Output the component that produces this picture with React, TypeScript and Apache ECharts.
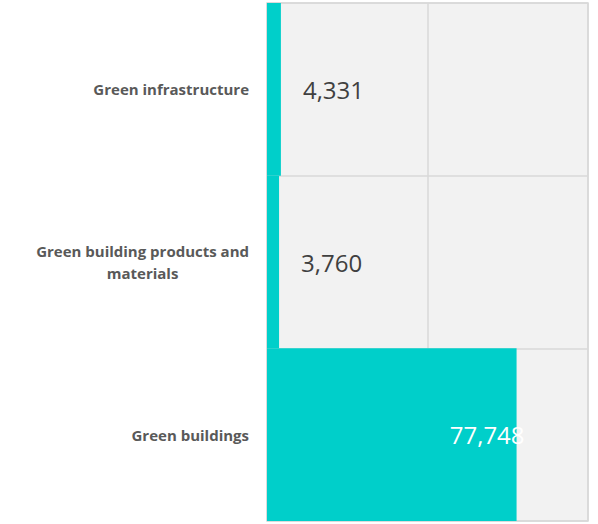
import React, { useEffect, useRef } from "react";
import * as echarts from "echarts";

const categories = [
  "Green infrastructure",
  "Green building products and\nmaterials",
  "Green buildings",
];
const values = [4331, 3760, 77748];
const axisMax = 100000;
const axisInterval = 50000;

export default function App() {
  const ref = useRef<HTMLDivElement>(null);

  useEffect(() => {
    if (!ref.current) return;
    const chart = echarts.init(ref.current, null, { renderer: "svg" });
    const option = {
      animation: false,
      backgroundColor: "#ffffff",
      grid: {
        left: 267,
        right: 10,
        top: 3,
        bottom: 3,
        show: true,
        backgroundColor: "#f2f2f2",
        borderColor: "#d9d9d9",
        borderWidth: 1.5,
      },
      xAxis: {
        type: "value",
        min: 0,
        max: axisMax,
        interval: axisInterval,
        axisLabel: { show: false },
        axisLine: { show: false },
        axisTick: { show: false },
        splitLine: { show: true, lineStyle: { color: "#d9d9d9", width: 1.5 } },
      },
      yAxis: {
        type: "category",
        inverse: true,
        data: categories,
        axisLine: { show: false },
        axisTick: { show: false },
        splitLine: { show: true, lineStyle: { color: "#d9d9d9", width: 1.5 } },
        axisLabel: {
          margin: 18,
          fontFamily: "Open Sans",
          fontWeight: "bold",
          fontSize: 15,
          color: "#595959",
          lineHeight: 22,
          formatter: (v: string) =>
            v
              .split("\n")
              .map((l) => `{c|${l}}`)
              .join("\n"),
          rich: {
            c: {
              align: "center",
              fontFamily: "Open Sans",
              fontWeight: "bold",
              fontSize: 15,
              color: "#595959",
              lineHeight: 22,
            },
          },
        },
      },
      series: [
        {
          type: "bar",
          data: values.map((v, i) =>
            i === 2
              ? {
                  value: v,
                  label: {
                    position: "insideRight",
                    distance: -8,
                    color: "#ffffff",
                  },
                }
              : v
          ),
          barWidth: "100%",
          barCategoryGap: 0,
          itemStyle: { color: "#00cfca" },
          label: {
            show: true,
            position: "right",
            distance: 22,
            fontFamily: "Open Sans",
            fontSize: 24,
            color: "#404040",
            formatter: (p: any) => Number(p.value).toLocaleString("en-US"),
          },
        },
      ],
    };
    chart.setOption(option as any);
    return () => chart.dispose();
  }, []);

  return (
    <div
      ref={ref}
      style={{ position: "fixed", left: 0, top: 0, width: 598, height: 524 }}
    />
  );
}
